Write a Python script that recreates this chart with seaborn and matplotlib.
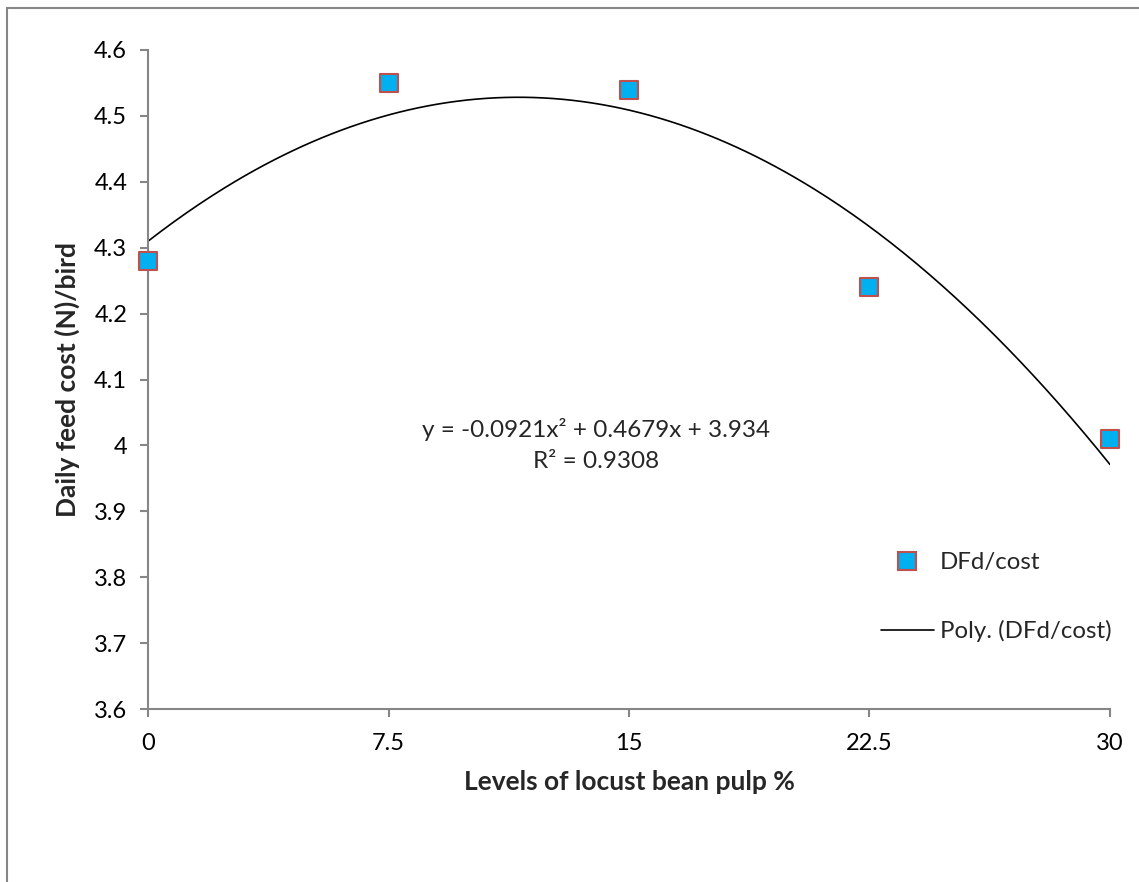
import numpy as np
import pandas as pd
import matplotlib
matplotlib.use("Agg")
import matplotlib.pyplot as plt
import seaborn as sns
from matplotlib.lines import Line2D
from matplotlib.patches import Rectangle

# ---- data ----
levels = [0, 7.5, 15, 22.5, 30]
cost = [4.28, 4.55, 4.54, 4.24, 4.01]
trend_coefs = [-0.0921, 0.4679, 3.934]   # in terms of point index 1..5
y_ticks = [3.6, 3.7, 3.8, 3.9, 4.0, 4.1, 4.2, 4.3, 4.4, 4.5, 4.6]
y_tick_labels = ["3.6", "3.7", "3.8", "3.9", "4", "4.1", "4.2", "4.3", "4.4", "4.5", "4.6"]
x_tick_labels = ["0", "7.5", "15", "22.5", "30"]
eq_text = "y = -0.0921x² + 0.4679x + 3.934\nR² = 0.9308"

sns.set_theme(style="white")
plt.rcParams["font.family"] = ["Lato", "DejaVu Sans"]

W, H = 1139, 882
fig = plt.figure(figsize=(W / 100, H / 100), dpi=100)
ax = fig.add_axes([148 / W, 1 - 709 / H, (1110 - 148) / W, (709 - 50) / H])

df = pd.DataFrame({"level": levels, "cost": cost})
xs = np.linspace(levels[0], levels[-1], 300)
t = xs / 7.5 + 1
trend = np.polyval(trend_coefs, t)
tdf = pd.DataFrame({"level": xs, "cost": trend})

sns.lineplot(data=tdf, x="level", y="cost", ax=ax, color="black", lw=1.2, zorder=2)
sns.scatterplot(data=df, x="level", y="cost", ax=ax, marker="s", s=185,
                color="#00B0F0", edgecolor="#C0504D", linewidth=1.5, zorder=3,
                clip_on=False)

ax.set_xlim(0, 30)
ax.set_ylim(3.6, 4.6)
ax.set_xticks(levels)
ax.set_xticklabels(x_tick_labels)
ax.set_yticks(y_ticks)
ax.set_yticklabels(y_tick_labels)

grey = "#868686"
for s in ["top", "right"]:
    ax.spines[s].set_visible(False)
for s in ["left", "bottom"]:
    ax.spines[s].set_color(grey)
    ax.spines[s].set_linewidth(1.5)
ax.tick_params(axis="both", direction="out", length=6, width=1.5, color=grey,
               labelsize=17, labelcolor="black")
ax.tick_params(axis="x", pad=11, bottom=True)
ax.tick_params(axis="y", pad=9, left=True)

ax.set_xlabel("Levels of locust bean pulp %", fontsize=19, fontweight="bold", labelpad=12)
ax.set_ylabel("Daily feed cost (N)/bird", fontsize=19, fontweight="bold", labelpad=10)

fig.text(596 / W, 1 - 445 / H, eq_text, ha="center", va="center", fontsize=17.5,
         linespacing=1.6)

handles = [
    Line2D([], [], marker="s", ls="none", markersize=13, markerfacecolor="#00B0F0",
           markeredgecolor="#C0504D", markeredgewidth=1.5),
    Line2D([], [], color="black", lw=1.2),
]
fig.legend(handles, ["DFd/cost", "Poly. (DFd/cost)"], loc="center left",
           bbox_to_anchor=(881 / W, 1 - 597 / H), frameon=False, fontsize=17.3,
           handlelength=2.2, handletextpad=0.25, labelspacing=1.95,
           borderpad=0, borderaxespad=0)

fig.patches.append(Rectangle((7 / W, -0.1), 1.2, 1 - 8 / H + 0.1, transform=fig.transFigure,
                             fill=False, edgecolor=grey, lw=1.5))

fig.savefig("out.png", dpi=100)
